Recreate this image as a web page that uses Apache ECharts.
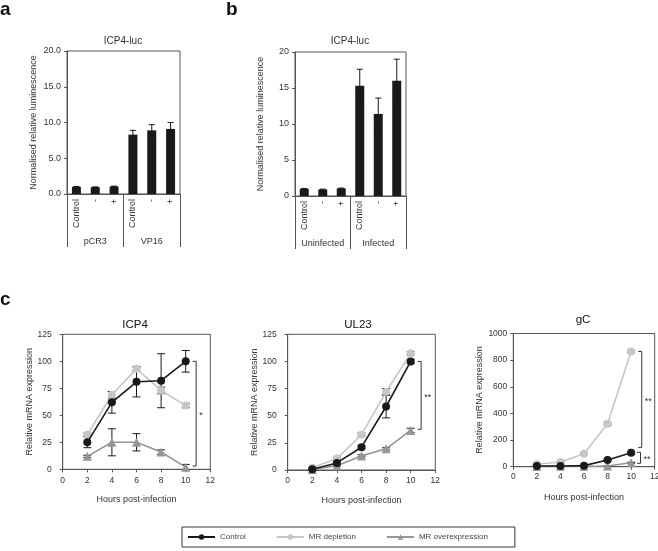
<!DOCTYPE html>
<html><head><meta charset="utf-8">
<script src="https://cdn.jsdelivr.net/npm/echarts@6/dist/echarts.min.js"></script>
<style>html,body{margin:0;padding:0;background:#fff}#c{width:658px;height:551px}</style>
</head><body><div id="c"></div>
<script>
// ---------- data ----------
const barCategories = ['Control', '-', '+', 'Control', '-', '+'];
const groupsA = ['pCR3', 'VP16'];
const groupsB = ['Uninfected', 'Infected'];
const valuesA = [1.0, 0.95, 1.05, 8.3, 8.9, 9.1];
const errorsA = [0.05, 0.05, 0.05, 0.6, 0.8, 0.9];
const valuesB = [1.0, 0.9, 1.05, 15.3, 11.4, 16.0];
const errorsB = [0.05, 0.05, 0.05, 2.3, 2.2, 3.0];

const hours = [2, 4, 6, 8, 10];
const seriesNames = ['Control', 'MR depletion', 'MR overexpression'];

const icp4Control = [25, 62, 81, 82, 100];
const icp4ControlErr = [5, 10, 14, 25, 10];
const icp4Depletion = [32, 69, 93, 73, 59];
const icp4DepletionErr = [1.5, 3, 2, 3, 2];
const icp4Over = [12, 25, 25, 16, 2];
const icp4OverErr = [1, 12.5, 8, 2, 2.5];

const ul23Control = [0.6, 6.5, 21, 58.5, 100];
const ul23ControlErr = [0.5, 1.5, 1.5, 10.5, 2];
const ul23Depletion = [2, 10.5, 32.5, 72, 107.5];
const ul23DepletionErr = [0.5, 1, 1.5, 3, 1.5];
const ul23Over = [0.5, 4, 13, 19.5, 36.5];
const ul23OverErr = [0.5, 0.5, 1, 1, 2];

const gcControl = [5, 5, 8, 50, 105];
const gcControlErr = [2, 2, 2, 5, 8];
const gcDepletion = [18, 35, 98, 322, 865];
const gcDepletionErr = [3, 3, 5, 10, 10];
const gcOver = [2, 3, 3, 5, 30];
const gcOverErr = [1, 1, 1, 1, 3];

// significance brackets: [upper value, lower value, label]
const sigICP4 = [[100, 3, '*']];
const sigUL23 = [[100, 37.5, '**']];
const sigGC = [[865, 145, '**'], [108, 25, '**']];

// ---------- style ----------
const FONT = 'Liberation Sans, Arial, sans-serif';
const AX = '#555';
const TXT = '#333';
const colors = ['#1a1a1a', '#c6c6c6', '#969696'];
const symbols = ['circle', 'circle', 'triangle'];
const symbolSizes = [8, 8, 9];

const chart = echarts.init(document.getElementById('c'), null, {renderer: 'canvas'});

const grids = [
  {left: 67, top: 51, width: 113, height: 143},
  {left: 295, top: 52, width: 111, height: 144},
  {left: 62.7, top: 334.3, width: 147.6, height: 135},
  {left: 287.7, top: 334.3, width: 147.6, height: 135.7},
  {left: 513.3, top: 333.5, width: 141.4, height: 133.2}
].map(g => Object.assign({show: true, borderColor: AX, borderWidth: 1, backgroundColor: 'transparent', containLabel: false, outerBoundsMode: 'none'}, g));

function errorSeries(xIdx, yIdx, xs, vals, errs, capPx, z) {
  return {
    type: 'custom', xAxisIndex: xIdx, yAxisIndex: yIdx, z: z, silent: true,
    data: xs.map((x, i) => [x, vals[i] - errs[i], vals[i] + errs[i]]),
    renderItem: (params, api) => {
      const lo = api.coord([api.value(0), api.value(1)]);
      const hi = api.coord([api.value(0), api.value(2)]);
      const h = capPx / 2;
      const st = {stroke: '#1a1a1a', lineWidth: 1};
      return {type: 'group', children: [
        {type: 'line', shape: {x1: lo[0], y1: lo[1], x2: hi[0], y2: hi[1]}, style: st},
        {type: 'line', shape: {x1: hi[0] - h, y1: hi[1], x2: hi[0] + h, y2: hi[1]}, style: st},
        {type: 'line', shape: {x1: lo[0] - h, y1: lo[1], x2: lo[0] + h, y2: lo[1]}, style: st}
      ]};
    }
  };
}

function sigSeries(xIdx, yIdx, sig, xPos) {
  return {
    type: 'custom', xAxisIndex: xIdx, yAxisIndex: yIdx, z: 5, silent: true,
    data: sig.map((s, i) => [xPos[i], s[0], s[1]]),
    renderItem: (params, api) => {
      const t = api.coord([api.value(0), api.value(1)]);
      const b = api.coord([api.value(0), api.value(2)]);
      const label = sig[params.dataIndex][2];
      const st = {stroke: '#333', lineWidth: 1};
      return {type: 'group', children: [
        {type: 'line', shape: {x1: t[0], y1: t[1], x2: t[0], y2: b[1]}, style: st},
        {type: 'line', shape: {x1: t[0] - 3.5, y1: t[1], x2: t[0], y2: t[1]}, style: st},
        {type: 'line', shape: {x1: b[0] - 3.5, y1: b[1], x2: b[0], y2: b[1]}, style: st},
        {type: 'text', x: t[0] + 3, y: (t[1] + b[1]) / 2 + 2, style: {text: label, fill: '#333', font: '9px ' + FONT, align: 'left', verticalAlign: 'middle'}}
      ]};
    }
  };
}

const xAxes = [];
const yAxes = [];
const series = [];

// ---- bar panels a, b ----
[[0, valuesA, errorsA, groupsA, v => v.toFixed(1), 29], [1, valuesB, errorsB, groupsB, v => String(v), 30]].forEach(([g, vals, errs, groups, fmt, gap]) => {
  const xi = xAxes.length;
  xAxes.push({
    type: 'category', gridIndex: g, data: barCategories, position: 'bottom',
    axisLine: {show: true, lineStyle: {color: AX, width: 1}},
    axisTick: {show: false},
    axisLabel: {rotate: 90, fontSize: 9, color: TXT, fontFamily: FONT, margin: 5, interval: 0}
  });
  xAxes.push({
    type: 'category', gridIndex: g, data: groups, position: 'bottom', offset: 53,
    axisLine: {show: false},
    axisTick: {show: true, inside: true, length: 53, alignWithLabel: false, lineStyle: {color: AX, width: 1}},
    axisLabel: {inside: true, margin: 1, fontSize: 9, color: TXT, fontFamily: FONT, interval: 0}
  });
  const yi = yAxes.length;
  yAxes.push({
    type: 'value', gridIndex: g, min: 0, max: 20, interval: 5,
    name: 'Normalised relative luminescence', nameLocation: 'middle', nameGap: gap,
    nameTextStyle: {fontSize: 9, color: TXT, fontFamily: FONT},
    axisLine: {show: true, lineStyle: {color: AX, width: 1}},
    axisTick: {show: true, length: 3, lineStyle: {color: AX}},
    splitLine: {show: false},
    axisLabel: {fontSize: 9, color: TXT, fontFamily: FONT, margin: 6, formatter: fmt}
  });
  series.push({
    type: 'bar', xAxisIndex: xi, yAxisIndex: yi, data: vals, barWidth: 9,
    itemStyle: {color: '#1a1a1a'}, silent: true, z: 2
  });
  series.push(errorSeries(xi, yi, barCategories.map((c, i) => i), vals, errs, 6, 3));
});

// ---- line panels c ----
const lineSets = [
  {g: 2, max: 125, interval: 25, data: [[icp4Control, icp4ControlErr], [icp4Depletion, icp4DepletionErr], [icp4Over, icp4OverErr]], sig: sigICP4, sigX: [10.85], ylm: 11, xlm: 6.5, gap: 27},
  {g: 3, max: 125, interval: 25, data: [[ul23Control, ul23ControlErr], [ul23Depletion, ul23DepletionErr], [ul23Over, ul23OverErr]], sig: sigUL23, sigX: [10.85], ylm: 11, xlm: 6.5, gap: 27},
  {g: 4, max: 1000, interval: 200, data: [[gcControl, gcControlErr], [gcDepletion, gcDepletionErr], [gcOver, gcOverErr]], sig: sigGC, sigX: [10.9, 10.8], ylm: 6, xlm: 5.5, gap: 27}
];
lineSets.forEach(set => {
  const xi = xAxes.length;
  xAxes.push({
    type: 'value', gridIndex: set.g, min: 0, max: 12, interval: 2,
    name: 'Hours post-infection', nameLocation: 'middle', nameGap: 26,
    nameTextStyle: {fontSize: 9, color: TXT, fontFamily: FONT},
    axisLine: {show: true, onZero: false, lineStyle: {color: AX, width: 1}},
    axisTick: {show: true, length: 3, lineStyle: {color: AX}},
    splitLine: {show: false},
    axisLabel: {fontSize: 8.5, color: TXT, fontFamily: FONT, margin: set.xlm, formatter: v => String(v)}
  });
  const yi = yAxes.length;
  yAxes.push({
    type: 'value', gridIndex: set.g, min: 0, max: set.max, interval: set.interval,
    name: 'Relative mRNA expression', nameLocation: 'middle', nameGap: set.gap,
    nameTextStyle: {fontSize: 9, color: TXT, fontFamily: FONT},
    axisLine: {show: true, onZero: false, lineStyle: {color: AX, width: 1}},
    axisTick: {show: true, length: 3, lineStyle: {color: AX}},
    splitLine: {show: false},
    axisLabel: {fontSize: 8.5, color: TXT, fontFamily: FONT, margin: set.ylm, formatter: v => String(v)}
  });
  // draw overexpression first, then depletion, then control on top
  [2, 1, 0].forEach(k => {
    const [vals, errs] = set.data[k];
    series.push(errorSeries(xi, yi, hours, vals, errs, 8, 1));
    series.push({
      type: 'line', name: seriesNames[k], xAxisIndex: xi, yAxisIndex: yi,
      data: hours.map((h, i) => [h, vals[i]]),
      symbol: symbols[k], symbolSize: symbolSizes[k], showSymbol: true,
      lineStyle: {color: colors[k], width: 1.6},
      itemStyle: {color: colors[k], borderWidth: 0},
      emphasis: {disabled: true}, silent: true, z: 2 + (2 - k) * 0.1, animation: false
    });
  });
  series.push(sigSeries(xi, yi, set.sig, set.sigX));
});

const titleBase = {padding: 0, textAlign: 'center'};
const letterStyle = {fontSize: 19, fontWeight: 'bold', color: '#111', fontFamily: FONT};
const titles = [
  {text: 'a', left: 0, top: 0, textAlign: 'left', padding: 0, textStyle: letterStyle},
  {text: 'b', left: 226, top: 0, textAlign: 'left', padding: 0, textStyle: letterStyle},
  {text: 'c', left: 0, top: 290, textAlign: 'left', padding: 0, textStyle: letterStyle},
  Object.assign({text: 'ICP4-luc', left: 123, top: 36, textStyle: {fontSize: 10, fontWeight: 'normal', color: TXT, fontFamily: FONT}}, titleBase),
  Object.assign({text: 'ICP4-luc', left: 350, top: 36, textStyle: {fontSize: 10, fontWeight: 'normal', color: TXT, fontFamily: FONT}}, titleBase),
  Object.assign({text: 'ICP4', left: 135, top: 318.5, textStyle: {fontSize: 11.5, fontWeight: 'normal', color: '#111', fontFamily: FONT}}, titleBase),
  Object.assign({text: 'UL23', left: 358, top: 318.5, textStyle: {fontSize: 11.5, fontWeight: 'normal', color: '#111', fontFamily: FONT}}, titleBase),
  Object.assign({text: 'gC', left: 583, top: 314, textStyle: {fontSize: 11.5, fontWeight: 'normal', color: '#111', fontFamily: FONT}}, titleBase)
];

chart.setOption({
  animation: false,
  textStyle: {fontFamily: FONT},
  title: titles,
  legend: {
    data: seriesNames,
    left: 182, top: 527, orient: 'horizontal',
    itemWidth: 27, itemHeight: 7, itemGap: 30,
    padding: [6, 27, 6, 5],
    borderColor: '#333', borderWidth: 1,
    selectedMode: false,
    textStyle: {fontSize: 8, color: '#444', fontFamily: FONT}
  },
  grid: grids,
  xAxis: xAxes,
  yAxis: yAxes,
  series: series
});
</script></body></html>
